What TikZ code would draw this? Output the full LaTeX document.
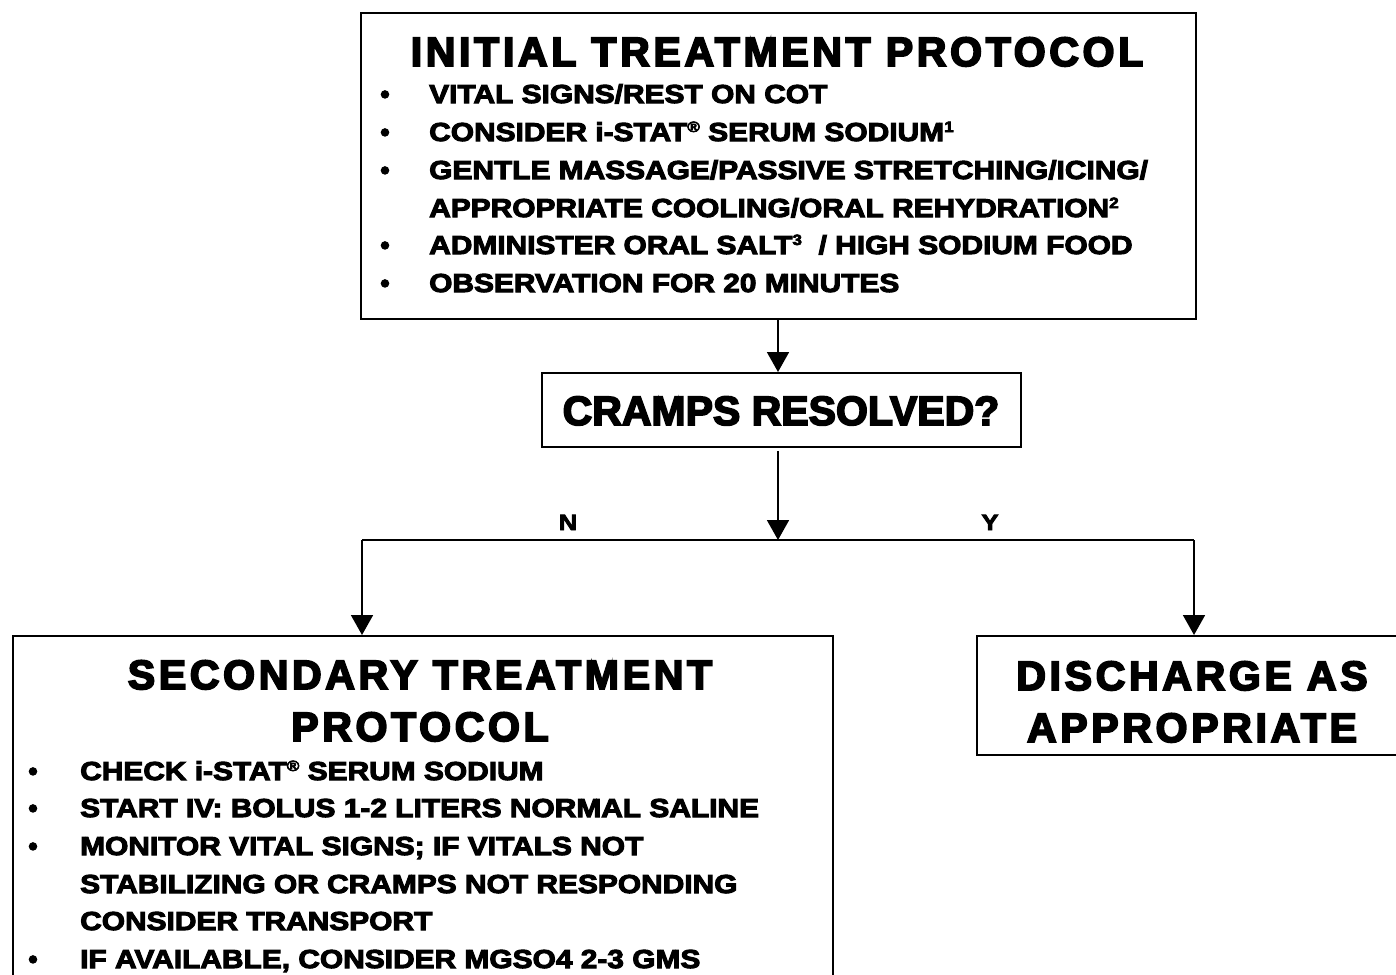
\documentclass[tikz,border=0pt]{standalone}
\usepackage{fontspec}
\usetikzlibrary{arrows.meta}
% heavy sans for all labels; the headings are letter-spaced, the list lines widened
\newfontfamily\heavy{Liberation Sans}[BoldFeatures={FakeBold=4}]
\newfontfamily\heavywide{Liberation Sans}[BoldFeatures={FakeBold=4,FakeStretch=1.15}]
\newfontfamily\heavysp{Liberation Sans}[LetterSpace=9,BoldFeatures={FakeBold=4.5}]
% small raised marks (registered sign, footnote numbers)
\newcommand{\upmark}[1]{\raisebox{9pt}{\fontsize{15}{15}\selectfont #1}}
\begin{document}
\begin{tikzpicture}[x=1pt,y=-1pt,
  box/.style={draw,line width=1.8pt,anchor=north west,inner sep=0pt},
  link/.style={line width=1.8pt},
  arr/.style={line width=1.8pt,-{Triangle[width=22pt,length=20pt]}},
  heading/.style={anchor=base,inner sep=0pt,font=\heavysp\bfseries\fontsize{41}{52}\selectfont},
  question/.style={anchor=base,inner sep=0pt,font=\heavy\bfseries\fontsize{41}{52}\selectfont},
  item/.style={anchor=base west,inner sep=0pt,font=\heavywide\bfseries\fontsize{26}{38}\selectfont},
  dot/.style={anchor=base,inner sep=0pt,font=\heavy\bfseries\fontsize{26}{38}\selectfont},
  branch/.style={anchor=base,inner sep=0pt,font=\heavywide\bfseries\fontsize{22}{26}\selectfont}]
\useasboundingbox (0,0) rectangle (1396,974);

% boxes
\node[box,minimum width=835pt,minimum height=306pt] (init) at (360,12) {};
\node[box,minimum width=479pt,minimum height=74pt] (cramps) at (541,372) {};
\node[box,minimum width=820pt,minimum height=380pt] (sec) at (12,635) {};
\node[box,minimum width=440pt,minimum height=119pt] (dis) at (976,635) {};

% initial treatment protocol
\node[heading] (initT) at (777,66) {INITIAL TREATMENT PROTOCOL};
\node[dot] (ib1) at (385,103) {•};
\node[dot] (ib2) at (385,141) {•};
\node[dot] (ib3) at (385,179) {•};
\node[dot] (ib4) at (385,254) {•};
\node[dot] (ib5) at (385,292) {•};
\node[item] (i1) at (429,103) {VITAL SIGNS/REST ON COT};
\node[item] (i2) at (429,141) {CONSIDER i-STAT\upmark{®} SERUM SODIUM\upmark{1}};
\node[item] (i3a) at (429,179) {GENTLE MASSAGE/PASSIVE STRETCHING/ICING/};
\node[item] (i3b) at (429,217) {APPROPRIATE COOLING/ORAL REHYDRATION\upmark{2}};
\node[item] (i4) at (429,254) {ADMINISTER ORAL SALT\upmark{3}\ \ / HIGH SODIUM FOOD};
\node[item] (i5) at (429,292) {OBSERVATION FOR 20 MINUTES};

% decision
\node[question] (q) at (781,425) {CRAMPS RESOLVED?};
\node[branch] (no) at (568,530) {N};
\node[branch] (yes) at (990,530) {Y};

% secondary treatment protocol
\node[heading] (secT1) at (420,689) {SECONDARY TREATMENT};
\node[heading] (secT2) at (420,741) {PROTOCOL};
\node[dot] (sb1) at (33,780) {•};
\node[dot] (sb2) at (33,817) {•};
\node[dot] (sb3) at (33,855) {•};
\node[dot] (sb4) at (33,968) {•};
\node[item] (s1) at (80,780) {CHECK i-STAT\upmark{®} SERUM SODIUM};
\node[item] (s2) at (80,817) {START IV: BOLUS 1-2 LITERS NORMAL SALINE};
\node[item] (s3a) at (80,855) {MONITOR VITAL SIGNS; IF VITALS NOT};
\node[item] (s3b) at (80,893) {STABILIZING OR CRAMPS NOT RESPONDING};
\node[item] (s3c) at (80,930) {CONSIDER TRANSPORT};
\node[item] (s4) at (80,968) {IF AVAILABLE, CONSIDER MGSO4 2-3 GMS};

% discharge
\node[heading] (disT1) at (1192,690) {DISCHARGE AS};
\node[heading] (disT2) at (1192,742) {APPROPRIATE};

% connectors
\coordinate (split) at (778,540);
\coordinate (left) at (362,540);
\coordinate (right) at (1194,540);
\draw[arr] (init.south -| split) -- (cramps.north -| split);
\draw[arr] ([yshift=-3pt]cramps.south -| split) -- (split);
\draw[link] (left) -- (right);
\draw[arr] (left) -- (sec.north -| left);
\draw[arr] (right) -- (dis.north -| right);
\end{tikzpicture}
\end{document}
